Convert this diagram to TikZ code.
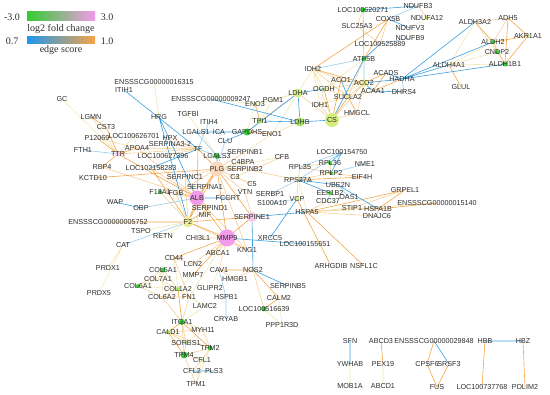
\documentclass[tikz,border=0pt]{standalone}
\usepackage{fontspec}
\setmainfont{Liberation Serif}
\setsansfont{Liberation Sans}

\definecolor{txt}{RGB}{45,45,45}
\definecolor{eorange}{RGB}{245,165,70}
\definecolor{elorange}{RGB}{247,207,150}
\definecolor{eyel}{RGB}{242,230,178}
\definecolor{elblue}{RGB}{150,205,235}
\definecolor{eblue}{RGB}{55,160,225}
\definecolor{dgreen}{RGB}{50,205,50}
\definecolor{lgreen}{RGB}{165,228,95}
\definecolor{ygreen}{RGB}{212,238,125}
\definecolor{pyell}{RGB}{238,236,150}
\definecolor{pinkup}{RGB}{242,155,232}
\definecolor{lpink}{RGB}{246,200,228}
\definecolor{peach}{RGB}{250,216,190}

\pgfdeclarelayer{edges}
\pgfsetlayers{edges,main}

\tikzset{
  gn/.style={circle, inner sep=0pt, minimum size=0pt},
  lbl/.style={font=\sffamily\fontsize{7.2}{8}\selectfont, text=txt, inner sep=0pt},
  lab/.style={label={[lbl]center:#1}},
  dt/.style 2 args={fill=#1, minimum size=#2},
  orln/.style={draw=eorange, line width=0.6pt},
  lorln/.style={draw=elorange, line width=0.6pt},
  yelln/.style={draw=eyel, line width=0.6pt},
  lbln/.style={draw=elblue, line width=0.6pt},
  bln/.style={draw=eblue, line width=0.6pt},
  legtxt/.style={font=\fontsize{10}{11}\selectfont, text=txt, inner sep=0pt}
}

\begin{document}
\begin{tikzpicture}[x=1pt, y=-1pt]
  \useasboundingbox (0,0) rectangle (550,395);

  % legend
  \node[legtxt] (lfclo) at (12,17) {-3.0};
  \node[legtxt] (lfchi) at (107,17) {3.0};
  \node[legtxt] (lfctx) at (61,29) {log2 fold change};
  \node[legtxt] (esclo) at (12,41) {0.7};
  \node[legtxt] (eschi) at (107,41) {1.0};
  \node[legtxt] (esctx) at (61,50) {edge score};
  \shade[left color=dgreen, middle color={rgb,255:red,250;green,248;blue,180}, right color=pinkup] (27,12) rectangle (95,21);
  \shade[left color={rgb,255:red,30;green,150;blue,240}, middle color={rgb,255:red,230;green,235;blue,215}, right color=eorange] (27,37) rectangle (95,44);

  % energy metabolism
  \node[gn, dt={dgreen}{5pt}, lab=LOC100620271] (loc271) at (363,10) {};
  \node[gn, lab=NDUFB3] (ndufb3) at (418,6) {};
  \node[gn, lab=COX5B] (cox5b) at (388,19) {};
  \node[gn, dt={ygreen}{4pt}, lab=NDUFA12] (ndufa12) at (427,18) {};
  \node[gn, lab=SLC25A3] (slc25a3) at (357,26) {};
  \node[gn, lab=NDUFV3] (ndufv3) at (410,28) {};
  \node[gn, lab=LOC100525889] (loc889) at (380,44) {};
  \node[gn, lab=NDUFB9] (ndufb9) at (410,38) {};
  \node[gn, dt={dgreen}{5pt}, lab=ATP5B] (atp5b) at (364,59) {};
  \node[gn, lab=ALDH3A2] (aldh3a2) at (475,22) {};
  \node[gn, lab=ADH5] (adh5) at (508,18) {};
  \node[gn, dt={dgreen}{4pt}, lab=ALDH2] (aldh2) at (493,42) {};
  \node[gn, dt={lgreen}{3pt}, lab=AKR1A1] (akr1a1) at (528,36) {};
  \node[gn, dt={dgreen}{4pt}, lab=CNDP2] (cndp2) at (497,52) {};
  \node[gn, lab=ALDH4A1] (aldh4a1) at (449,65) {};
  \node[gn, dt={dgreen}{5pt}, lab=ALDH1B1] (aldh1b1) at (505,64) {};
  \node[gn, lab=GLUL] (glul) at (461,87) {};
  \node[gn, lab=ACADS] (acads) at (386,73) {};
  \node[gn, lab=HADHA] (hadha) at (402,79) {};
  \node[gn, dt={pyell}{3pt}, lab=IDH2] (idh2) at (313,69) {};
  \node[gn, lab=ACO1] (aco1) at (341,80) {};
  \node[gn, dt={pyell}{8pt}, lab=ACO2] (aco2) at (364,83) {};
  \node[gn, lab=ACAA1] (acaa1) at (373,91) {};
  \node[gn, lab=DHRS4] (dhrs4) at (404,92) {};
  \node[gn, dt={lgreen}{3pt}, lab=OGDH] (ogdh) at (324,89) {};
  \node[gn, dt={ygreen}{9pt}, lab=LDHA] (ldha) at (298,93) {};
  \node[gn, lab=PGM1] (pgm1) at (273,100) {};
  \node[gn, dt={pyell}{4pt}, lab=SUCLA2] (sucla2) at (348,97) {};
  \node[gn, lab=IDH1] (idh1) at (320,105) {};
  \node[gn, lab=HMGCL] (hmgcl) at (357,113) {};
  \node[gn, dt={lgreen}{9pt}, lab=LDHB] (ldhb) at (300,122) {};
  \node[gn, dt={ygreen}{14pt}, lab=CS] (cs) at (332,120) {};
  \node[gn, dt={ygreen}{4pt}, lab=ENO3] (eno3) at (255,104) {};
  \node[gn, lab=ENSSSCG00000009247] (ens247) at (211,99) {};
  \node[gn, dt={lgreen}{5pt}, lab=TPI1] (tpi1) at (260,121) {};
  \node[gn, dt={dgreen}{7pt}, lab=GAPDHS] (gapdhs) at (247,132) {};
  \node[gn, lab=ENO1] (eno1) at (272,134) {};

  % plasma proteins
  \node[gn, lab=ICA] (ica) at (219,132) {};
  \node[gn, lab=LGALS1] (lgals1) at (196,132) {};
  \node[gn, lab=ITIH4] (itih4) at (209,122) {};
  \node[gn, lab=TGFBI] (tgfbi) at (188,114) {};
  \node[gn, lab=HRG] (hrg) at (159,117) {};
  \node[gn, lab=ENSSSCG00000016315] (ens315) at (154,82) {};
  \node[gn, lab=ITIH1] (itih1) at (124,90) {};
  \node[gn, lab=GC] (gc) at (62,99) {};
  \node[gn, lab=LGMN] (lgmn) at (91,117) {};
  \node[gn, lab=CST3] (cst3) at (106,127) {};
  \node[gn, lab=P12069] (p12069) at (97,138) {};
  \node[gn, lab=LOC100626701] (loc701) at (134,136) {};
  \node[gn, lab=HPX] (hpx) at (170,138) {};
  \node[gn, lab=SERPINA3-2] (serpa3) at (170,144) {};
  \node[gn, lab=CLU] (clu) at (225,141) {};
  \node[gn, lab=FTH1] (fth1) at (83,150) {};
  \node[gn, dt={lpink}{5pt}, lab=TTR] (ttr) at (118,154) {};
  \node[gn, lab=APOA4] (apoa4) at (137,148) {};
  \node[gn, lab=TF] (tf) at (198,149) {};
  \node[gn, lab=LOC100627396] (loc396) at (163,156) {};
  \node[gn, dt={dgreen}{6pt}, lab=LGALS3] (lgals3) at (217,156) {};
  \node[gn, lab=SERPINB1] (serpb1) at (245,152) {};
  \node[gn, lab=C4BPA] (c4bpa) at (243,162) {};
  \node[gn, lab=CFB] (cfb) at (282,157) {};
  \node[gn, lab=RBP4] (rbp4) at (102,167) {};
  \node[gn, lab=LOC102158283] (loc283) at (151,168) {};
  \node[gn, dt={peach}{15pt}, lab=PLG] (plg) at (217,169) {};
  \node[gn, lab=SERPINB2] (serpb2) at (245,169) {};
  \node[gn, lab=KCTD10] (kctd10) at (93,178) {};
  \node[gn, lab=SERPINC1] (serpc1) at (185,177) {};
  \node[gn, lab=C3] (c3) at (235,177) {};
  \node[gn, lab=C5] (c5) at (252,184) {};
  \node[gn, lab=SERPINA1] (serpa1) at (205,187) {};
  \node[gn, lab=VTN] (vtn) at (245,192) {};
  \node[gn, dt={dgreen}{4pt}, lab=F13A1] (f13a1) at (160,192) {};
  \node[gn, lab=FGB] (fgb) at (176,193) {};
  \node[gn, dt={pinkup}{15pt}, lab=ALB] (alb) at (197,198) {};
  \node[gn, lab=FCGRT] (fcgrt) at (228,198) {};
  \node[gn, lab=WAP] (wap) at (115,202) {};
  \node[gn, lab=OBP] (obp) at (141,208) {};
  \node[gn, lab=SERPIND1] (serpd1) at (210,208) {};
  \node[gn, lab=MIF] (mif) at (205,215) {};
  \node[gn, dt={lpink}{10pt}, lab=SERPINE1] (serpe1) at (252,217) {};
  \node[gn, dt={pyell}{11pt}, lab=F2] (f2) at (188,222) {};
  \node[gn, lab=ENSSSCG00000005752] (ens752) at (108,222) {};
  \node[gn, lab=TSPO] (tspo) at (141,231) {};
  \node[gn, lab=RETN] (retn) at (163,236) {};
  \node[gn, lab=CHI3L1] (chi3l1) at (198,238) {};
  \node[gn, dt={pinkup}{17pt}, lab=MMP9] (mmp9) at (227,238) {};
  \node[gn, lab=CAT] (cat) at (123,245) {};
  \node[gn, lab=KNG1] (kng1) at (247,250) {};
  \node[gn, lab=ABCA1] (abca1) at (218,253) {};
  \node[gn, lab=XRCC5] (xrcc5) at (270,238) {};
  \node[gn, lab=LOC100155651] (loc651) at (305,244) {};
  \node[gn, lab=PRDX1] (prdx1) at (108,268) {};
  \node[gn, lab=PRDX5] (prdx5) at (99,293) {};

  % ribosome and chaperones
  \node[gn, lab=LOC100154750] (loc750) at (342,152) {};
  \node[gn, dt={dgreen}{4pt}, lab=RPL36] (rpl36) at (330,163) {};
  \node[gn, lab=NME1] (nme1) at (365,164) {};
  \node[gn, lab=RPL35] (rpl35) at (300,167) {};
  \node[gn, dt={dgreen}{4pt}, lab=RPLP2] (rplp2) at (331,173) {};
  \node[gn, lab=EIF4H] (eif4h) at (362,177) {};
  \node[gn, lab=RPS27A] (rps27a) at (298,180) {};
  \node[gn, lab=UBE2N] (ube2n) at (338,185) {};
  \node[gn, lab=SERBP1] (serbp1) at (270,194) {};
  \node[gn, dt={dgreen}{4pt}, lab=EEF1B2] (eef1b2) at (330,193) {};
  \node[gn, dt={ygreen}{4pt}, lab=VCP] (vcp) at (297,199) {};
  \node[gn, lab=CDC37] (cdc37) at (328,201) {};
  \node[gn, lab=OAS1] (oas1) at (349,197) {};
  \node[gn, lab=S100A10] (s100a10) at (272,203) {};
  \node[gn, lab=STIP1] (stip1) at (352,208) {};
  \node[gn, lab=HSPA1B] (hspa1b) at (378,209) {};
  \node[gn, lab=HSPA5] (hspa5) at (307,212) {};
  \node[gn, lab=DNAJC6] (dnajc6) at (377,216) {};
  \node[gn, lab=GRPEL1] (grpel1) at (405,190) {};
  \node[gn, lab=ENSSSCG00000015140] (ens140) at (437,203) {};
  \node[gn, lab=ARHGDIB] (arhgdib) at (331,266) {};
  \node[gn, lab=NSFL1C] (nsfl1c) at (364,266) {};

  % lower left
  \node[gn, lab=NOS2] (nos2) at (253,270) {};
  \node[gn, lab=SERPINB5] (serpb5) at (288,286) {};
  \node[gn, lab=CALM2] (calm2) at (279,298) {};
  \node[gn, dt={dgreen}{5pt}, lab=LOC100516639] (loc639) at (264,309) {};
  \node[gn, lab=PPP1R3D] (ppp1r3d) at (282,325) {};
  \node[gn, lab=CD44] (cd44) at (174,258) {};
  \node[gn, lab=LCN2] (lcn2) at (193,264) {};
  \node[gn, lab=MMP7] (mmp7) at (193,275) {};
  \node[gn, lab=CAV1] (cav1) at (219,270) {};
  \node[gn, lab=HMGB1] (hmgb1) at (235,279) {};
  \node[gn, dt={dgreen}{5pt}, lab=COL5A1] (col5a1) at (163,270) {};
  \node[gn, lab=COL7A1] (col7a1) at (158,279) {};
  \node[gn, dt={dgreen}{4pt}, lab=COL6A1] (col6a1) at (138,286) {};
  \node[gn, dt={lgreen}{4pt}, lab=COL1A2] (col1a2) at (178,289) {};
  \node[gn, lab=GLIPR2] (glipr2) at (210,288) {};
  \node[gn, lab=COL6A2] (col6a2) at (162,297) {};
  \node[gn, lab=FN1] (fn1) at (189,297) {};
  \node[gn, lab=HSPB1] (hspb1) at (226,297) {};
  \node[gn, lab=LAMC2] (lamc2) at (205,306) {};
  \node[gn, dt={dgreen}{6pt}, lab=ITGA1] (itga1) at (182,322) {};
  \node[gn, lab=CRYAB] (cryab) at (226,319) {};
  \node[gn, dt={lgreen}{4pt}, lab=CALD1] (cald1) at (168,332) {};
  \node[gn, lab=MYH11] (myh11) at (203,330) {};
  \node[gn, dt={lgreen}{3pt}, lab=SORBS1] (sorbs1) at (186,343) {};
  \node[gn, dt={dgreen}{5pt}, lab=TPM2] (tpm2) at (210,348) {};
  \node[gn, dt={dgreen}{7pt}, lab=TPM4] (tpm4) at (184,355) {};
  \node[gn, dt={lgreen}{3pt}, lab=CFL1] (cfl1) at (202,360) {};
  \node[gn, lab=CFL2] (cfl2) at (192,371) {};
  \node[gn, lab=PLS3] (pls3) at (214,371) {};
  \node[gn, lab=TPM1] (tpm1) at (196,384) {};

  % small groups
  \node[gn, lab=SFN] (sfn) at (350,341) {};
  \node[gn, lab=YWHAB] (ywhab) at (350,364) {};
  \node[gn, lab=MOB1A] (mob1a) at (350,386) {};
  \node[gn, lab=ABCD3] (abcd3) at (381,341) {};
  \node[gn, lab=PEX19] (pex19) at (383,364) {};
  \node[gn, lab=ABCD1] (abcd1) at (383,386) {};
  \node[gn, lab=ENSSSCG00000029848] (ens848) at (434,341) {};
  \node[gn, lab=CPSF6] (cpsf6) at (427,364) {};
  \node[gn, lab=SRSF3] (srsf3) at (449,364) {};
  \node[gn, lab=FUS] (fus) at (437,387) {};
  \node[gn, lab=HBB] (hbb) at (485,341) {};
  \node[gn, lab=HBZ] (hbz) at (523,341) {};
  \node[gn, lab=LOC100737768] (loc768) at (482,387) {};
  \node[gn, lab=PDLIM2] (pdlim2) at (525,387) {};

  \begin{pgfonlayer}{edges}
  \draw[yelln] (idh2) -- (ogdh) (idh2) -- (ldha) (idh2) -- (idh1) (idh2) -- (cs) (aco1) -- (ogdh) (aco2) -- (idh1)
    (ogdh) -- (idh1) (sucla2) -- (idh1) (ldha) -- (pgm1) (ldha) -- (eno3) (pgm1) -- (tpi1) (eno3) -- (gapdhs)
    (eno1) -- (ldhb) (eno1) -- (ldha) (ens247) -- (eno3) (aldh3a2) -- (cndp2) (aldh4a1) -- (aldh1b1)
    (aldh4a1) -- (aldh2) (aldh3a2) -- (aldh4a1) (aldh4a1) -- (cndp2) (ndufa12) -- (ndufv3) (ndufv3) -- (ndufb9)
    (atp5b) -- (ogdh) (gc) -- (ttr) (lgmn) -- (ttr) (p12069) -- (apoa4) (ens315) -- (hrg) (tgfbi) -- (lgals3)
    (eno1) -- (serpb1) (plg) -- (cfb) (serpb1) -- (c4bpa) (c3) -- (c5) (ttr) -- (loc701) (apoa4) -- (loc701)
    (f2) -- (tspo) (f2) -- (retn) (cat) -- (prdx1) (prdx5) -- (cat) (alb) -- (chi3l1) (alb) -- (mif)
    (mmp9) -- (fn1) (cd44) -- (col1a2) (mmp7) -- (col1a2) (cav1) -- (glipr2) (loc639) -- (ppp1r3d)
    (calm2) -- (ppp1r3d) (col5a1) -- (col6a2) (col7a1) -- (col6a1) (col6a1) -- (col1a2) (fn1) -- (lamc2)
    (itga1) -- (lamc2) (myh11) -- (sorbs1) (cfl1) -- (tpm1) (tpm2) -- (tpm1) (hspa5) -- (ens140)
    (hspa5) -- (hspa1b) (cdc37) -- (stip1) (ywhab) -- (mob1a) (pex19) -- (abcd1) (rps27a) -- (hspa5);
  \draw[lorln] (alb) -- (serpc1) (alb) -- (fgb) (alb) -- (f13a1) (alb) -- (serpd1) (alb) -- (kng1)
    (alb) -- (apoa4) (alb) -- (loc283) (alb) -- (rbp4) (plg) -- (c3) (plg) -- (c4bpa) (plg) -- (serpb1)
    (plg) -- (c5) (plg) -- (vtn) (plg) -- (kng1) (plg) -- (serpc1) (plg) -- (serpa1) (plg) -- (fgb)
    (f2) -- (serpc1) (f2) -- (serpa1) (f2) -- (fgb) (f2) -- (f13a1) (f2) -- (kng1) (mmp9) -- (chi3l1)
    (mmp9) -- (abca1) (mmp9) -- (kng1) (mmp9) -- (lcn2) (mmp9) -- (cav1) (tf) -- (hpx) (tf) -- (serpa3)
    (tf) -- (loc396) (tf) -- (apoa4) (tf) -- (ttr) (serpe1) -- (vtn) (cfb) -- (c3) (serpb2) -- (rps27a)
    (rps27a) -- (vcp) (rps27a) -- (rpl35) (rpl35) -- (rpl36) (rpl36) -- (rplp2) (rplp2) -- (rps27a)
    (rpl35) -- (rplp2) (rplp2) -- (eif4h) (hspa5) -- (stip1) (stip1) -- (hspa1b) (hspa1b) -- (dnajc6)
    (hspa5) -- (dnajc6) (stip1) -- (grpel1) (cdc37) -- (hspa5) (itga1) -- (col6a2) (itga1) -- (fn1)
    (itga1) -- (myh11) (itga1) -- (sorbs1) (itga1) -- (tpm4) (cald1) -- (myh11) (cald1) -- (sorbs1)
    (cald1) -- (tpm2) (myh11) -- (tpm2) (sorbs1) -- (tpm4) (tpm2) -- (tpm4) (tpm4) -- (cfl1) (tpm2) -- (cfl1)
    (cfl1) -- (cfl2) (tpm4) -- (tpm1) (col5a1) -- (col7a1) (col5a1) -- (col6a1) (col5a1) -- (col1a2)
    (col7a1) -- (col1a2) (col6a1) -- (col6a2) (col1a2) -- (col6a2) (col1a2) -- (fn1) (col6a2) -- (fn1)
    (cd44) -- (fn1) (cd44) -- (lcn2) (cav1) -- (hmgb1) (hmgb1) -- (nos2) (nos2) -- (loc639)
    (idh2) -- (aco1) (idh2) -- (sucla2) (aco1) -- (aco2) (aco2) -- (sucla2) (aco2) -- (ogdh) (aco2) -- (cs)
    (ogdh) -- (sucla2) (idh1) -- (cs) (ldha) -- (cs) (ldha) -- (tpi1) (gapdhs) -- (tpi1) (hmgcl) -- (cs)
    (acaa1) -- (sucla2) (hmgcl) -- (aco2) (aldh3a2) -- (adh5) (adh5) -- (aldh2) (aldh2) -- (aldh1b1)
    (aldh2) -- (cndp2) (cndp2) -- (aldh1b1) (ndufb3) -- (ndufa12) (slc25a3) -- (loc889) (loc271) -- (slc25a3)
    (cox5b) -- (loc889) (atp5b) -- (sucla2);
  \draw[orln] (alb) -- (f2) (alb) -- (plg) (alb) -- (mmp9) (plg) -- (f2) (plg) -- (mmp9) (f2) -- (mmp9)
    (f2) -- (serpe1) (mmp9) -- (serpe1) (plg) -- (serpe1) (alb) -- (tf) (tf) -- (plg) (ttr) -- (rbp4)
    (ttr) -- (cst3) (cst3) -- (lgmn) (ttr) -- (p12069) (ttr) -- (apoa4) (f2) -- (serpd1) (f2) -- (ens752)
    (plg) -- (serpb2) (kctd10) -- (plg) (mmp9) -- (cd44) (mmp9) -- (mmp7) (cav1) -- (nos2) (nos2) -- (calm2)
    (calm2) -- (loc639) (hspa5) -- (grpel1) (hspa1b) -- (ens140) (hspa1b) -- (grpel1) (hspa5) -- (nsfl1c)
    (vcp) -- (arhgdib) (rps27a) -- (eif4h) (tpi1) -- (eno3) (gapdhs) -- (eno1) (acads) -- (aco2)
    (hmgcl) -- (sucla2) (aldh3a2) -- (aldh2) (adh5) -- (akr1a1) (aldh2) -- (akr1a1) (akr1a1) -- (aldh1b1)
    (adh5) -- (aldh1b1) (aldh4a1) -- (glul) (hbb) -- (loc768) (hbz) -- (pdlim2) (ens848) -- (cpsf6)
    (cpsf6) -- (fus) (srsf3) -- (fus) (abcd3) -- (pex19) (itga1) -- (col1a2) (itga1) -- (cald1)
    (itga1) -- (tpm2) (cald1) -- (tpm4) (f2) -- (loc283) (alb) -- (serpa1) (alb) -- (ttr) (idh2) -- (aco2)
    (aco1) -- (cs) (sucla2) -- (cs) (ogdh) -- (cs) (acaa1) -- (acads) (hadha) -- (acaa1) (loc271) -- (atp5b)
    (cox5b) -- (atp5b) (cox5b) -- (idh2);
  \draw[lbln] (ttr) -- (fth1) (obp) -- (alb) (f2) -- (cat) (loc750) -- (rpl35) (loc750) -- (rps27a)
    (rplp2) -- (nme1) (rps27a) -- (serbp1) (atp5b) -- (aco2) (atp5b) -- (idh2) (hadha) -- (dhrs4)
    (lgals1) -- (lgals3) (tf) -- (lgals3) (clu) -- (plg) (itih4) -- (tf) (hspb1) -- (cryab) (cav1) -- (hspb1)
    (eef1b2) -- (cdc37) (ube2n) -- (oas1) (ndufb9) -- (loc889) (ndufb3) -- (cox5b) (s100a10) -- (vcp);
  \draw[bln] (itih1) -- (tf) (hrg) -- (alb) (hrg) -- (f2) (ica) -- (gapdhs) (lgals1) -- (ica) (clu) -- (gapdhs)
    (plg) -- (lgals3) (alb) -- (fcgrt) (wap) -- (obp) (tf) -- (loc283) (mmp9) -- (loc651) (serpe1) -- (hspa5)
    (serpe1) -- (nos2) (nos2) -- (serpb5) (vcp) -- (xrcc5) (rps27a) -- (ube2n) (rps27a) -- (eef1b2)
    (loc750) -- (rpl36) (loc750) -- (rplp2) (ube2n) -- (hspa1b) (hadha) -- (aldh3a2) (hadha) -- (aldh2)
    (hadha) -- (aldh4a1) (hadha) -- (aldh1b1) (hadha) -- (acads) (hadha) -- (aco2) (acaa1) -- (dhrs4)
    (ogdh) -- (ldha) (ldha) -- (ldhb) (ldhb) -- (cs) (ldhb) -- (tpi1) (gapdhs) -- (ldha) (ens247) -- (ldhb)
    (atp5b) -- (cs) (aco1) -- (sucla2) (loc271) -- (ndufb3) (cox5b) -- (ndufv3) (loc889) -- (atp5b)
    (acaa1) -- (aco2) (cfl2) -- (pls3) (hbb) -- (hbz) (sfn) -- (ywhab) (ens848) -- (srsf3);
  \end{pgfonlayer}
\end{tikzpicture}
\end{document}
